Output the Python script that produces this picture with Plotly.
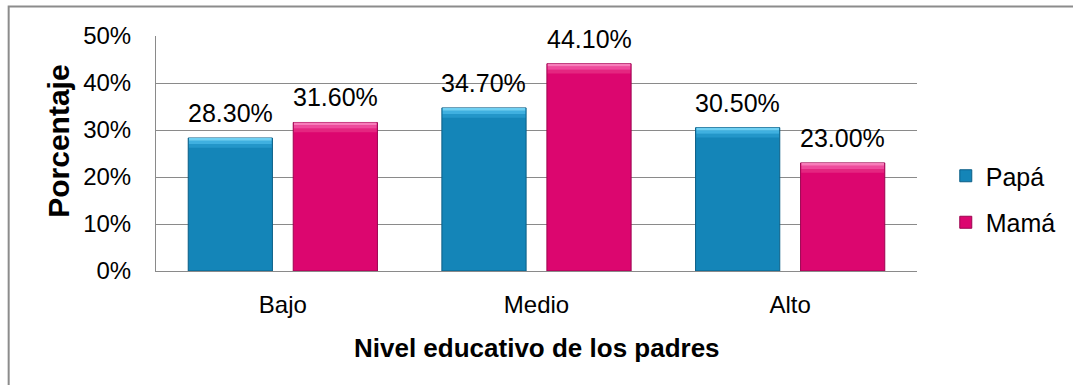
import plotly.graph_objects as go

categories = ["Bajo", "Medio", "Alto"]
papa = [28.3, 34.7, 30.5]
mama = [31.6, 44.1, 23.0]
series_names = ["Papá", "Mamá"]
y_ticks = [0, 10, 20, 30, 40, 50]

W, H = 1073, 385
ML, MR, MT, MB = 156, 150, 36, 114
PW, PH = W - ML - MR, H - MT - MB

def px_to_paper_x(px):
    return (px - ML) / PW

def px_to_paper_y(py):
    return (H - MB - py) / PH

FONT = "Liberation Sans, Arial, sans-serif"
GRID = "#8a8a8a"

bar_w = 0.332
gap = 0.082
offsets = [-(bar_w + gap / 2), gap / 2]

styles = [
    dict(body="#1485B8", line="#0B5E86", hi1="#6FD0F3", hi2="#3FB0E0", hi3="#2396C9"),
    dict(body="#DC066F", line="#9C0450", hi1="#F77DBA", hi2="#EE4A9C", hi3="#E42680"),
]

xs = list(range(len(categories)))
fig = go.Figure()
annotations = []

for k, (name, vals) in enumerate(zip(series_names, [papa, mama])):
    st = styles[k]
    off = offsets[k]
    fig.add_trace(go.Bar(
        x=xs, y=vals, name=name, width=bar_w, offset=off,
        marker=dict(color=st["body"], line=dict(color=st["line"], width=1)),
        legendgroup=name, hoverinfo="skip",
    ))
    # bevel highlight bands derived from the values
    for depth, thick, col in [(2.1, 0.8, "hi3"), (1.3, 0.7, "hi2"), (0.6, 0.6, "hi1")]:
        fig.add_trace(go.Bar(
            x=xs, y=[thick] * len(vals), base=[v - depth for v in vals],
            width=bar_w - 0.006, offset=off + 0.003,
            marker=dict(color=st[col], line=dict(width=0)),
            showlegend=False, hoverinfo="skip",
        ))
    for i, v in enumerate(vals):
        annotations.append(dict(
            x=i + off + bar_w / 2, y=v, xref="x", yref="y",
            text=f"{v:.2f}%", showarrow=False, yanchor="middle", yshift=25,
            font=dict(family=FONT, size=25, color="#000"),
        ))

annotations.append(dict(
    x=px_to_paper_x(540), y=px_to_paper_y(348), xref="paper", yref="paper",
    text="<b>Nivel educativo de los padres</b>", showarrow=False,
    xanchor="center", yanchor="middle",
    font=dict(family=FONT, size=26, color="#000"),
))
annotations.append(dict(
    x=px_to_paper_x(57), y=px_to_paper_y(141), xref="paper", yref="paper",
    text="<b>Porcentaje</b>", showarrow=False, textangle=-90,
    xanchor="center", yanchor="middle",
    font=dict(family=FONT, size=30, color="#000"),
))

fig.update_layout(
    width=W, height=H,
    margin=dict(l=ML, r=MR, t=MT, b=MB),
    paper_bgcolor="white", plot_bgcolor="white",
    barmode="overlay",
    showlegend=True,
    legend=dict(
        x=px_to_paper_x(952), y=px_to_paper_y(153), xanchor="left", yanchor="top",
        font=dict(family=FONT, size=25, color="#000"),
        tracegroupgap=11, bgcolor="rgba(0,0,0,0)",
    ),
    annotations=annotations,
    shapes=[dict(
        type="rect", xref="paper", yref="paper",
        x0=px_to_paper_x(7.5), x1=px_to_paper_x(1090),
        y0=px_to_paper_y(400), y1=px_to_paper_y(6.5),
        line=dict(color="#8c8c8c", width=2), fillcolor="rgba(0,0,0,0)", layer="below",
    )],
)

fig.update_xaxes(
    range=[-0.5, len(categories) - 0.5], tickvals=xs, ticktext=categories,
    showgrid=False, showline=True, linecolor=GRID, linewidth=1, ticks="",
    zeroline=False, ticklabelstandoff=12,
    tickfont=dict(family=FONT, size=24, color="#000"),
)
fig.update_yaxes(
    range=[0, 50], tickvals=y_ticks, ticktext=[f"{t}%" for t in y_ticks],
    showgrid=True, gridcolor=GRID, gridwidth=1,
    showline=True, linecolor=GRID, linewidth=1, ticks="",
    zeroline=False, ticklabelstandoff=19,
    tickfont=dict(family=FONT, size=24, color="#000"),
)

fig.write_html("out.html")
